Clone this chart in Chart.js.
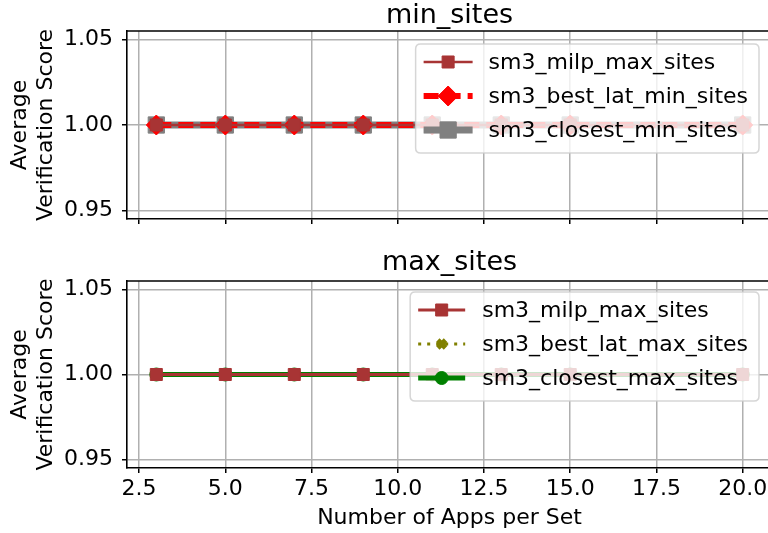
<!DOCTYPE html>
<html><head><meta charset="utf-8">
<script src="https://cdn.jsdelivr.net/npm/chart.js@4/dist/chart.umd.min.js"></script>
<style>
html,body{margin:0;padding:0;overflow:hidden;background:#fff;width:768px;height:533px;}
.wrap{position:absolute;left:0;width:800px;}
#w1{top:0;height:250px;} #w2{top:250px;height:283px;}
canvas{display:block;}
</style></head><body>
<div class="wrap" id="w1"><canvas id="c1" width="800" height="250"></canvas></div>
<div class="wrap" id="w2"><canvas id="c2" width="800" height="283"></canvas></div>
<script>
// ---- data ----
const appsPerSet = [3, 5, 7, 9, 11, 13, 15, 20];
const minMilp    = [1.0, 1.0, 1.0, 1.0, 1.0, 1.0, 1.0, 1.0];
const minBestLat = [1.0, 1.0, 1.0, 1.0, 1.0, 1.0, 1.0, 1.0];
const minClosest = [1.0, 1.0, 1.0, 1.0, 1.0, 1.0, 1.0, 1.0];
const maxMilp    = [1.0, 1.0, 1.0, 1.0, 1.0, 1.0, 1.0, 1.0];
const maxBestLat = [1.0, 1.0, 1.0, 1.0, 1.0, 1.0, 1.0, 1.0];
const maxClosest = [1.0, 1.0, 1.0, 1.0, 1.0, 1.0, 1.0, 1.0];
const xTickValues = [2.5, 5, 7.5, 10, 12.5, 15, 17.5, 20];
const yTickValues = [0.95, 1.00, 1.05];
const subplotTitles = ['min_sites', 'max_sites'];
const xAxisLabel = 'Number of Apps per Set';
const yAxisLabel = ['Average', 'Verification Score'];

const FONT = '"DejaVu Sans", "Liberation Sans", sans-serif';
const pts = (ys) => appsPerSet.map((x, i) => ({x: x, y: ys[i]}));

const decorPlugin = {
  id: 'decor',
  afterDatasetsDraw(chart, args, o) {
    const ctx = chart.ctx, ca = chart.chartArea;
    ctx.save();
    // frame (top + right spines)
    ctx.strokeStyle = '#000'; ctx.lineWidth = 1.6; ctx.setLineDash([]);
    ctx.beginPath();
    ctx.moveTo(ca.left, ca.top); ctx.lineTo(ca.right, ca.top); ctx.lineTo(ca.right, ca.bottom);
    ctx.stroke();
    // title
    ctx.fillStyle = '#000';
    ctx.font = o.titleSize + 'px ' + FONT;
    ctx.textAlign = 'center'; ctx.textBaseline = 'alphabetic';
    ctx.fillText(o.title, (ca.left + ca.right) / 2, ca.top - o.titleGap);
    // legend
    ctx.font = o.legendSize + 'px ' + FONT;
    const dss = chart.data.datasets;
    const tw = Math.max(...dss.map(d => ctx.measureText(d.label).width));
    const padL = 8, handle = o.handle, gap = o.gap, padR = 11;
    const w = padL + handle + gap + tw + padR, h = 109;
    const right = ca.right - 13, top = ca.top + o.legendTop, left = right - w;
    const r = 5;
    ctx.beginPath();
    ctx.moveTo(left + r, top); ctx.lineTo(right - r, top);
    ctx.quadraticCurveTo(right, top, right, top + r);
    ctx.lineTo(right, top + h - r); ctx.quadraticCurveTo(right, top + h, right - r, top + h);
    ctx.lineTo(left + r, top + h); ctx.quadraticCurveTo(left, top + h, left, top + h - r);
    ctx.lineTo(left, top + r); ctx.quadraticCurveTo(left, top, left + r, top);
    ctx.closePath();
    ctx.fillStyle = 'rgba(255,255,255,0.8)'; ctx.fill();
    ctx.strokeStyle = 'rgba(204,204,204,0.8)'; ctx.lineWidth = 1.5; ctx.stroke();
    dss.forEach((d, i) => {
      const y = top + 18 + i * 34;
      ctx.save();
      ctx.strokeStyle = d.borderColor; ctx.lineWidth = d.borderWidth;
      ctx.setLineDash(d.borderDash || []); ctx.lineCap = 'butt';
      ctx.beginPath(); ctx.moveTo(left + padL, y); ctx.lineTo(left + padL + handle, y); ctx.stroke();
      ctx.setLineDash([]);
      ctx.fillStyle = d.pointBackgroundColor; ctx.strokeStyle = d.pointBorderColor;
      ctx.lineWidth = d.pointBorderWidth;
      Chart.helpers.drawPoint(ctx, {pointStyle: d.pointStyle, radius: d.pointRadius,
        borderWidth: d.pointBorderWidth, rotation: 0}, left + padL + handle / 2, y);
      ctx.restore();
      ctx.fillStyle = '#000'; ctx.textAlign = 'left'; ctx.textBaseline = 'middle';
      ctx.fillText(d.label, left + padL + handle + gap, y + 1);
    });
    ctx.restore();
  }
};

function makeOptions(isBottom, decor) {
  return {
    responsive: false, animation: false, devicePixelRatio: 1,
    layout: {padding: {left: 0, right: 28, top: 31, bottom: 0}},
    plugins: {legend: {display: false}, tooltip: {enabled: false}, title: {display: false}, decor: decor},
    scales: {
      x: {
        type: 'linear', min: 2.15, max: 20.85,
        afterBuildTicks: s => { s.ticks = xTickValues.map(v => ({value: v})); },
        afterFit: s => { s.height = isBottom ? 65 : 31; },
        grid: {color: '#b0b0b0', lineWidth: 1.5, tickColor: '#000', tickLength: 5, tickWidth: 1.5},
        border: {display: true, color: '#000', width: 1.6},
        ticks: {display: isBottom, color: '#000', padding: 3, maxRotation: 0, autoSkip: false,
          font: {family: FONT, size: 22}, callback: v => Number(v).toFixed(1)},
        title: {display: isBottom, text: xAxisLabel, color: '#000',
          font: {family: FONT, size: 22, lineHeight: 1.2}, padding: {top: 0, bottom: 2}}
      },
      y: {
        type: 'linear', min: 0.945, max: 1.055,
        afterBuildTicks: s => { s.ticks = yTickValues.map(v => ({value: v})); },
        afterFit: s => { s.width = 127; },
        grid: {color: '#b0b0b0', lineWidth: 1.5, tickColor: '#000', tickLength: 5, tickWidth: 1.5},
        border: {display: true, color: '#000', width: 1.6},
        ticks: {color: '#000', padding: 9, font: {family: FONT, size: 22},
          callback: v => Number(v).toFixed(2)},
        title: {display: true, text: yAxisLabel, color: '#000',
          font: {family: FONT, size: 22, lineHeight: 1.2}, padding: {top: 7, bottom: 0}}
      }
    }
  };
}

const lineDefaults = {showLine: true, fill: false, tension: 0, borderCapStyle: 'butt'};

new Chart(document.getElementById('c1'), {
  type: 'line',
  plugins: [decorPlugin],
  data: {datasets: [
    Object.assign({}, lineDefaults, {label: 'sm3_milp_max_sites', data: pts(minMilp),
      borderColor: '#a83434', borderWidth: 2.5, pointStyle: 'rect', pointRadius: 8.5,
      pointBackgroundColor: '#a83434', pointBorderColor: '#a83434', pointBorderWidth: 1}),
    Object.assign({}, lineDefaults, {label: 'sm3_best_lat_min_sites', data: pts(minBestLat),
      borderColor: '#ff0000', borderWidth: 6, borderDash: [15, 7], pointStyle: 'rectRot', pointRadius: 10,
      pointBackgroundColor: '#ff0000', pointBorderColor: '#ff0000', pointBorderWidth: 1}),
    Object.assign({}, lineDefaults, {label: 'sm3_closest_min_sites', data: pts(minClosest),
      borderColor: '#808080', borderWidth: 7, pointStyle: 'rect', pointRadius: 11.5,
      pointBackgroundColor: '#808080', pointBorderColor: '#808080', pointBorderWidth: 1})
  ]},
  options: makeOptions(false, {title: subplotTitles[0], titleSize: 27, titleGap: 8,
    legendSize: 22, legendTop: 13, handle: 49, gap: 16})
});

new Chart(document.getElementById('c2'), {
  type: 'line',
  plugins: [decorPlugin],
  data: {datasets: [
    Object.assign({}, lineDefaults, {label: 'sm3_milp_max_sites', data: pts(maxMilp),
      borderColor: '#a83434', borderWidth: 3, pointStyle: 'rect', pointRadius: 8.5,
      pointBackgroundColor: '#a83434', pointBorderColor: '#a83434', pointBorderWidth: 1}),
    Object.assign({}, lineDefaults, {label: 'sm3_best_lat_max_sites', data: pts(maxBestLat),
      borderColor: '#808000', borderWidth: 3, borderDash: [3, 6], pointStyle: 'crossRot', pointRadius: 5.5,
      pointBackgroundColor: '#808000', pointBorderColor: '#808000', pointBorderWidth: 5}),
    Object.assign({}, lineDefaults, {label: 'sm3_closest_max_sites', data: pts(maxClosest),
      borderColor: '#008000', borderWidth: 5, pointStyle: 'circle', pointRadius: 6.5,
      pointBackgroundColor: '#008000', pointBorderColor: '#008000', pointBorderWidth: 1})
  ]},
  options: makeOptions(true, {title: subplotTitles[1], titleSize: 27, titleGap: 11,
    legendSize: 22, legendTop: 11, handle: 47, gap: 17})
});
</script>
</body></html>
